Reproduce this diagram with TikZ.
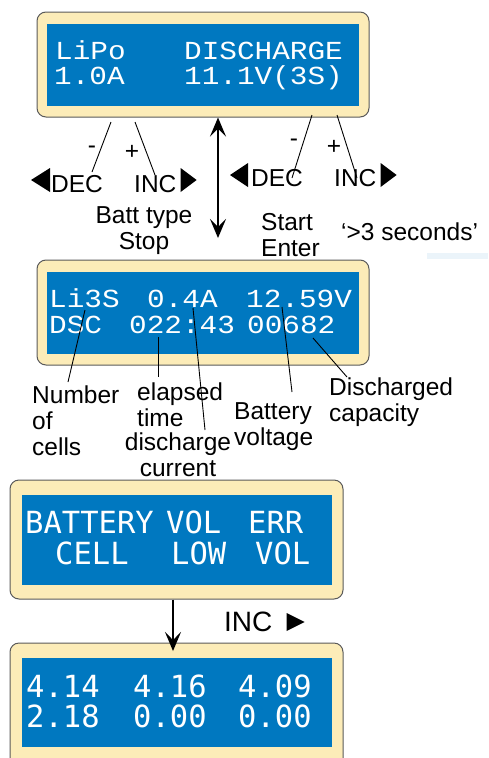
\documentclass[tikz,border=0pt]{standalone}
\usepackage{fontspec}
\setmainfont{Liberation Sans}
\newfontfamily\lcdfont[FakeStretch = 1.13]{Liberation Mono}
\newfontfamily\lcdwide{DejaVu Sans Mono}
\usetikzlibrary{arrows.meta}

\definecolor{lcdblue}{RGB}{0,120,192}
\definecolor{bezel}{RGB}{252,236,184}
\definecolor{rim}{RGB}{90,90,90}

\tikzset{
    panel/.style = {draw = rim, fill = bezel, line width = 1pt, rounded corners = 9pt, inner sep = 0pt},
    screen/.style = {fill = lcdblue, inner sep = 0pt},
    lcd/.style = {anchor = base west, inner sep = 0pt, text = white, font = \lcdfont\fontsize{26}{26}\selectfont},
    lcdbig/.style = {lcd, font = \lcdwide\fontsize{30.5}{31}\selectfont},
    lbl/.style = {inner sep = 0pt, font = \fontsize{24.5}{26}\selectfont},
    pointer/.style = {line width = 0.9pt}
}

\begin{document}
\begin{tikzpicture}[x = 1pt, y = -1pt, > = {Stealth[length = 19pt, width = 16pt, inset = 8pt]}]
    \useasboundingbox (0, 0) rectangle (488, 758);
    \clip (0, 0) rectangle (488, 758);

    \node[panel, minimum width = 332pt, minimum height = 105pt] (disp1) at (203, 64.5) {};
    \node[screen, minimum width = 312pt, minimum height = 82pt] (scr1) at (203, 65) {};
    \node[panel, minimum width = 332pt, minimum height = 105pt] (disp2) at (203, 312.5) {};
    \node[screen, minimum width = 312pt, minimum height = 82pt] (scr2) at (203, 313) {};
    \node[panel, minimum width = 333pt, minimum height = 119pt] (disp3) at (176.5, 539.5) {};
    \node[screen, minimum width = 310pt, minimum height = 90pt] (scr3) at (177, 540) {};
    \node[panel, minimum width = 333pt, minimum height = 127pt] (disp4) at (176.5, 706.5) {};
    \node[screen, minimum width = 310pt, minimum height = 89pt] (scr4) at (177, 702.5) {};

    \foreach \tx/\ty/\txt [count = \i] in {55/59/LiPo, 184/59/DISCHARGE, 54/84/1.0A, 184/84/11.1V(3S),
        49/307/Li3S, 147/307/0.4A, 246/307/12.59V, 49/333/DSC, 129/333/022:43, 247/333/00682}
        \node[lcd] (lcdA\i) at (\tx, \ty) {\txt};
    \foreach \tx/\ty/\txt [count = \i] in {25/533/BATTERY, 166/533/VOL, 248/533/ERR, 55/564/CELL, 171/564/LOW, 255/564/VOL,
        26/697/4.14, 133/697/4.16, 238/697/4.09, 26/727/2.18, 133/727/0.00, 238/727/0.00}
        \node[lcdbig] (lcdB\i) at (\tx, \ty) {\txt};

    \node[lbl, anchor = base west] (decA) at (51, 192) {DEC};
    \node[lbl, anchor = base west] (incA) at (134, 192) {INC};
    \node[lbl] (minusA) at (92, 150) {-};
    \node[lbl] (plusA) at (132, 152) {+};
    \node[lbl, anchor = base west] (decB) at (251, 186) {DEC};
    \node[lbl, anchor = base west] (incB) at (334, 186) {INC};
    \node[lbl] (minusB) at (294, 143) {-};
    \node[lbl] (plusB) at (334, 147) {+};
    \fill (decA.base west) ++ (-1, 0) -- ++ (0, -24) -- ++ (-19, 12) -- cycle;
    \fill (incA.base east) ++ (4, 0) -- ++ (0, -24) -- ++ (16, 12) -- cycle;
    \fill (decB.base west) ++ (-3, 1) -- ++ (0, -24) -- ++ (-18, 12) -- cycle;
    \fill (incB.base east) ++ (4, 1) -- ++ (0, -24) -- ++ (16, 12) -- cycle;

    \node[lbl, anchor = north, align = center] (batt) at (144, 206) {Batt type\\Stop};
    \node[lbl, anchor = north west, align = left] (start) at (261, 213) {Start\\Enter};
    \node[lbl, anchor = base west] (hold) at (341, 240) {`>3 seconds'};
    \fill[lcdblue!8] (427, 253) rectangle (488, 259);

    \node[lbl, anchor = north west, align = left] (cells) at (32, 386) {Number\\of\\cells};
    \node[lbl, anchor = north west, align = left] (elapsed) at (137, 383) {elapsed\\time};
    \node[lbl, anchor = north, align = center] (current) at (178, 433) {discharge\\current};
    \node[lbl, anchor = north west, align = left] (volt) at (234, 402) {Battery\\voltage};
    \node[lbl, anchor = north west, align = left] (cap) at (329, 378) {Discharged\\capacity};

    \node[lbl, anchor = base west, font = \fontsize{28}{30}\selectfont] (incC) at (224, 631) {INC};
    \fill (incC.base east) ++ (14, 0) -- ++ (0, -18) -- ++ (18, 9) -- cycle;

    \foreach \ax/\ay/\bx/\by [count = \i] in {111/122/92/172, 135/122/155/175, 312/115/292/178, 337/115/357/178,
        85/310/68/382, 158/337/158/377, 193/308/205/430, 282/307/292/392, 313/338/347/377}{
        \coordinate (tip\i) at (\ax, \ay);
        \coordinate (foot\i) at (\bx, \by);
        \draw[pointer] (tip\i) -- (foot\i);
    }

    \coordinate (swapEnd) at (218, 238);
    \draw[line width = 1.3pt, <->] (swapEnd |- disp1.south) -- (swapEnd);
    \coordinate (feedEnd) at (173, 651);
    \draw[line width = 1.3pt, ->] (feedEnd |- disp3.south) -- (feedEnd);
\end{tikzpicture}
\end{document}
